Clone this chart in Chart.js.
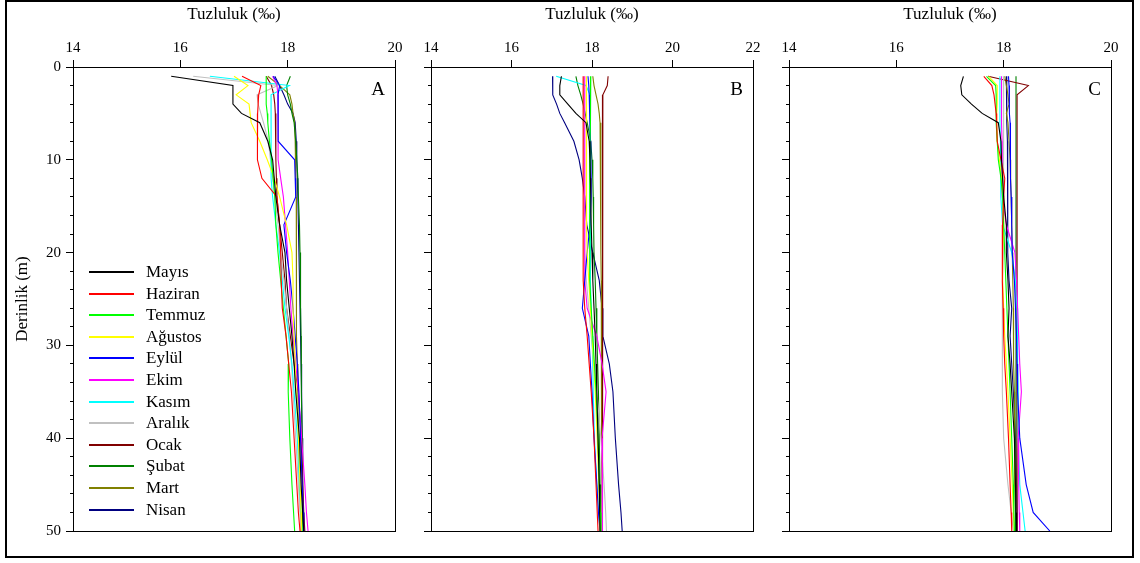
<!DOCTYPE html>
<html>
<head>
<meta charset="utf-8">
<script src="https://cdn.jsdelivr.net/npm/chart.js@4/dist/chart.umd.min.js"></script>
<style>
body{margin:0;background:#fff;width:1140px;height:563px;position:relative;overflow:hidden;font-family:"Liberation Serif","Times New Roman",serif;}
canvas{position:absolute;top:0;}
#frame{position:absolute;left:5px;top:0;width:1129px;height:558px;border:2px solid #000;box-sizing:border-box;pointer-events:none;}
#legend{position:absolute;left:89px;top:0;}
.row{position:absolute;left:0;height:22px;display:flex;align-items:center;font-size:17px;color:#000;white-space:nowrap;}
.row .ln{display:inline-block;width:45px;height:2px;margin-right:12px;}
</style>
</head>
<body>
<canvas id="panelA" width="410" height="563" style="left:0px"></canvas>
<canvas id="panelB" width="360" height="563" style="left:410px"></canvas>
<canvas id="panelC" width="370" height="563" style="left:770px"></canvas>
<div id="legend"></div>
<div id="frame"></div>
<script>
const FONT = '"Liberation Serif", "Times New Roman", serif';

// depth (m) of every sample, shared by all profiles
const DEPTHS = [1,2,3,4,5,6,8,10,12,14,17,20,23,26,29,32,35,40,45,48,50];
const DEPTH_RANGE = [0, 50];

const MONTHS = ["Mayıs","Haziran","Temmuz","Ağustos","Eylül","Ekim","Kasım","Aralık","Ocak","Şubat","Mart","Nisan"];
const COLORS = ["#000000","#ff0000","#00ff00","#ffff00","#0000ff","#ff00ff","#00ffff","#c0c0c0","#800000","#008000","#808000","#000080"];

// salinity (‰) per month, station A
const SALT_A = [
  [15.83,16.98,16.98,16.98,17.14,17.48,17.63,17.72,17.75,17.78,17.85,17.95,17.98,18.03,18.08,18.12,18.15,18.22,18.25,18.28,18.30],
  [17.15,17.50,17.46,17.45,17.44,17.44,17.43,17.44,17.52,17.80,17.85,17.87,17.88,17.90,17.97,18.02,18.07,18.12,18.17,18.20,18.23],
  [17.60,17.60,17.60,17.60,17.62,17.63,17.66,17.70,17.73,17.76,17.78,17.82,17.87,17.92,17.97,18.02,18.01,18.04,18.08,18.11,18.13],
  [17.00,17.26,17.04,17.28,17.30,17.32,17.48,17.62,17.75,17.85,17.98,18.08,18.10,18.10,18.12,18.14,18.16,18.20,18.23,18.25,18.26],
  [17.73,17.85,17.82,17.82,17.82,17.82,17.83,18.13,18.14,18.15,17.93,17.98,18.05,18.10,18.14,18.18,18.21,18.24,18.27,18.29,18.30],
  [17.72,17.80,17.82,17.82,17.82,17.82,17.82,17.83,17.87,17.92,17.96,18.00,18.03,18.06,18.10,18.15,18.20,18.26,18.32,18.35,18.38],
  [16.55,18.03,17.69,17.69,17.69,17.69,17.69,17.69,17.70,17.72,17.78,17.85,17.90,17.95,18.02,18.08,18.12,18.18,18.22,18.25,18.27],
  [16.24,17.82,17.43,17.45,17.50,17.55,17.64,17.68,17.72,17.76,17.82,17.87,17.93,17.98,18.03,18.07,18.10,18.15,18.20,18.23,18.25],
  [17.60,17.70,17.74,17.76,17.77,17.78,17.78,17.78,17.79,17.80,17.85,17.90,17.95,17.98,18.05,18.12,18.20,18.25,18.28,18.30,18.32],
  [18.05,17.98,18.00,18.05,18.08,18.12,18.15,18.17,18.19,18.20,18.22,18.23,18.24,18.24,18.25,18.25,18.26,18.27,18.27,18.28,18.28],
  [17.63,17.85,18.04,18.08,18.10,18.13,18.14,18.15,18.15,18.16,18.16,18.16,18.16,18.17,18.17,18.18,18.19,18.20,18.22,18.24,18.25],
  [17.76,17.85,17.93,18.00,18.10,18.14,18.16,18.17,18.18,18.19,18.20,18.21,18.22,18.23,18.24,18.25,18.26,18.27,18.28,18.29,18.30]
];

// station B
const SALT_B = [
  [17.24,17.20,17.20,17.40,17.60,17.85,17.93,17.95,17.96,17.97,17.98,18.00,18.02,18.05,18.08,18.10,18.12,18.15,18.18,18.19,18.20],
  [17.78,17.78,17.78,17.78,17.78,17.78,17.78,17.78,17.78,17.78,17.78,17.78,17.79,17.82,17.88,17.93,17.98,18.05,18.10,18.13,18.15],
  [17.97,17.97,17.96,17.96,17.96,17.96,17.95,17.95,17.95,17.95,17.93,17.93,17.95,17.98,18.02,18.06,18.10,18.15,18.18,18.20,18.22],
  [17.86,17.86,17.86,17.86,17.86,17.86,17.86,17.86,17.87,17.87,17.87,17.88,17.92,17.96,18.00,18.04,18.08,18.13,18.17,18.19,18.20],
  [17.90,17.92,17.93,17.94,17.95,17.95,17.96,17.97,17.98,17.98,17.95,17.88,17.82,17.76,17.92,17.96,18.00,18.05,18.12,18.16,18.20],
  [17.82,17.82,17.82,17.82,17.82,17.82,17.82,17.82,17.82,17.82,17.82,17.82,17.82,17.88,18.12,18.25,18.35,18.25,18.25,18.26,18.27],
  [17.11,17.85,17.95,17.96,17.96,17.96,17.96,17.96,17.96,17.96,17.96,17.96,17.97,17.98,18.00,18.02,18.03,18.06,18.12,18.17,18.20],
  [17.80,17.80,17.80,17.80,17.80,17.80,17.80,17.81,17.81,17.81,17.82,17.82,17.86,17.92,17.98,18.05,18.12,18.22,18.30,18.34,18.36],
  [18.40,18.38,18.27,18.26,18.26,18.26,18.26,18.26,18.26,18.26,18.26,18.26,18.26,18.26,18.26,18.26,18.26,18.26,18.26,18.26,18.26],
  [17.60,17.65,17.72,17.78,17.83,17.88,17.97,18.00,18.02,18.03,18.04,18.05,18.08,18.10,18.12,18.14,18.16,18.18,18.20,18.21,18.22],
  [18.02,18.05,18.10,18.15,18.18,18.20,18.22,18.22,18.22,18.22,18.22,18.22,18.23,18.23,18.23,18.24,18.24,18.24,18.25,18.25,18.25],
  [17.02,17.02,17.03,17.12,17.20,17.32,17.55,17.68,17.76,17.82,17.87,18.02,18.18,18.25,18.27,18.43,18.52,18.58,18.66,18.72,18.75]
];

// station C
const SALT_C = [
  [17.25,17.20,17.22,17.40,17.60,17.90,17.95,17.96,17.98,18.00,18.05,18.05,18.08,18.10,18.08,18.12,18.15,18.20,18.22,18.23,18.24],
  [17.63,17.78,17.82,17.84,17.86,17.87,17.88,17.95,18.02,18.00,17.98,17.97,17.98,17.99,18.00,18.02,18.05,18.09,18.12,18.14,18.15],
  [17.68,17.85,17.86,17.86,17.86,17.86,17.88,17.90,17.95,17.98,18.00,18.02,18.04,18.06,18.08,18.10,18.12,18.15,18.18,18.19,18.20],
  [17.72,17.88,17.88,17.88,17.87,17.87,17.88,17.92,17.96,18.00,18.00,17.98,17.98,18.00,18.02,18.05,18.08,18.12,18.16,18.18,18.20],
  [18.09,18.10,18.10,18.11,18.11,18.12,18.12,18.13,18.13,18.14,18.15,18.16,18.20,18.22,18.24,18.25,18.26,18.30,18.42,18.55,18.86],
  [17.96,17.96,17.96,17.96,17.96,17.96,17.97,17.97,17.97,17.98,18.05,18.21,18.24,18.26,18.28,18.30,18.33,18.27,18.28,18.29,18.30],
  [17.93,17.93,17.93,17.93,17.93,17.93,17.94,17.94,17.95,17.95,17.98,18.15,18.22,18.25,18.26,18.26,18.27,18.27,18.30,18.36,18.40],
  [18.00,18.00,18.00,18.00,18.00,18.00,18.00,18.00,17.99,17.99,17.99,17.99,17.98,17.98,17.97,17.97,17.98,18.00,18.08,18.14,18.18],
  [17.71,18.46,18.25,18.25,18.25,18.25,18.25,18.25,18.25,18.25,18.25,18.25,18.25,18.25,18.25,18.25,18.25,18.25,18.25,18.25,18.25],
  [18.23,18.23,18.23,18.23,18.23,18.23,18.23,18.23,18.23,18.23,18.23,18.23,18.23,18.23,18.23,18.23,18.23,18.23,18.23,18.22,18.22],
  [18.02,18.05,18.08,18.10,18.05,18.08,18.10,18.12,18.13,18.14,18.15,18.16,18.17,18.18,18.18,18.19,18.20,18.20,18.21,18.22,18.22],
  [18.05,18.05,18.06,18.06,18.06,18.06,18.07,18.07,18.07,18.08,18.08,18.08,18.10,18.15,18.12,18.15,18.18,18.22,18.24,18.25,18.25]
];

const X_RANGE_A = [14, 20];
const X_RANGE_B = [14, 22];
const X_RANGE_C = [14, 20];

//------------------------
// panel letter (A, B, C)
//------------------------
const panelLetter = {
  id: "panelLetter",
  afterDraw(chart, args, opts) {
    const {ctx, chartArea} = chart;
    ctx.save();
    ctx.font = "19px " + FONT;
    ctx.fillStyle = "#000";
    ctx.textAlign = "right";
    ctx.textBaseline = "alphabetic";
    ctx.fillText(opts.text, chartArea.right - 10, chartArea.top + 28);
    ctx.restore();
  }
};

function makePanel(id, rows, xRange, letter, yWidth, padRight, showY) {

  const datasets = rows.map((vals, i) => ({
    label: MONTHS[i],
    data: vals.map((v, k) => ({x: v, y: DEPTHS[k]})),
    borderColor: COLORS[i],
    borderWidth: 1.1,
    pointRadius: 0,
    fill: false,
    tension: 0
  }));

  return new Chart(document.getElementById(id), {
    type: "line",
    data: {datasets: datasets},
    options: {
      responsive: false,
      animation: false,
      layout: {padding: {left: 0, top: 0, right: padRight, bottom: 32}},
      plugins: {
        legend: {display: false},
        tooltip: {enabled: false},
        panelLetter: {text: letter}
      },
      scales: {
        x: {
          type: "linear", position: "top", min: xRange[0], max: xRange[1],
          ticks: {stepSize: 2, color: "#000", font: {family: FONT, size: 15}, padding: 3},
          grid: {drawOnChartArea: false, tickLength: 7, color: "#000"},
          border: {color: "#000", width: 1},
          title: {display: true, text: "Tuzluluk (‰)", color: "#000",
                  font: {family: FONT, size: 17}, padding: {top: 4, bottom: 0}},
          afterFit(s) { s.height = 67; }
        },
        y: {
          type: "linear", position: "left", reverse: true,
          min: DEPTH_RANGE[0], max: DEPTH_RANGE[1], weight: 1,
          ticks: {stepSize: 10, display: showY, color: "#000", font: {family: FONT, size: 15}, padding: 5},
          grid: {drawOnChartArea: false, tickLength: 7, color: "#000"},
          border: {color: "#000", width: 1},
          title: {display: showY, text: "Derinlik (m)", color: "#000",
                  font: {family: FONT, size: 17}, padding: {top: 12, bottom: 0}},
          afterFit(s) { s.width = yWidth; }
        },
        yMinor: {
          type: "linear", position: "left", reverse: true,
          min: DEPTH_RANGE[0], max: DEPTH_RANGE[1], weight: 0,
          ticks: {stepSize: 2, display: false},
          grid: {drawOnChartArea: false, tickLength: 3, color: "#000"},
          border: {display: false},
          afterFit(s) { s.width = 0; }
        },
        x2: {
          type: "linear", position: "bottom", min: xRange[0], max: xRange[1],
          ticks: {display: false},
          grid: {display: false},
          border: {color: "#000", width: 1},
          afterFit(s) { s.height = 0; }
        },
        y2: {
          type: "linear", position: "right", min: DEPTH_RANGE[0], max: DEPTH_RANGE[1],
          ticks: {display: false},
          grid: {display: false},
          border: {color: "#000", width: 1},
          afterFit(s) { s.width = 0; }
        }
      }
    },
    plugins: [panelLetter]
  });
}

makePanel("panelA", SALT_A, X_RANGE_A, "A", 73, 15, true);
makePanel("panelB", SALT_B, X_RANGE_B, "B", 21, 17, false);
makePanel("panelC", SALT_C, X_RANGE_C, "C", 19, 29, false);

//------------------------
// legend
//------------------------
let rows = "";
MONTHS.forEach((m, i) => {
  const top = Math.round(261 + i * 21.6);
  rows += `<div class="row" style="top:${top}px"><span class="ln" style="background:${COLORS[i]}"></span>${m}</div>`;
});
document.getElementById("legend").innerHTML = rows;
</script>
</body>
</html>
